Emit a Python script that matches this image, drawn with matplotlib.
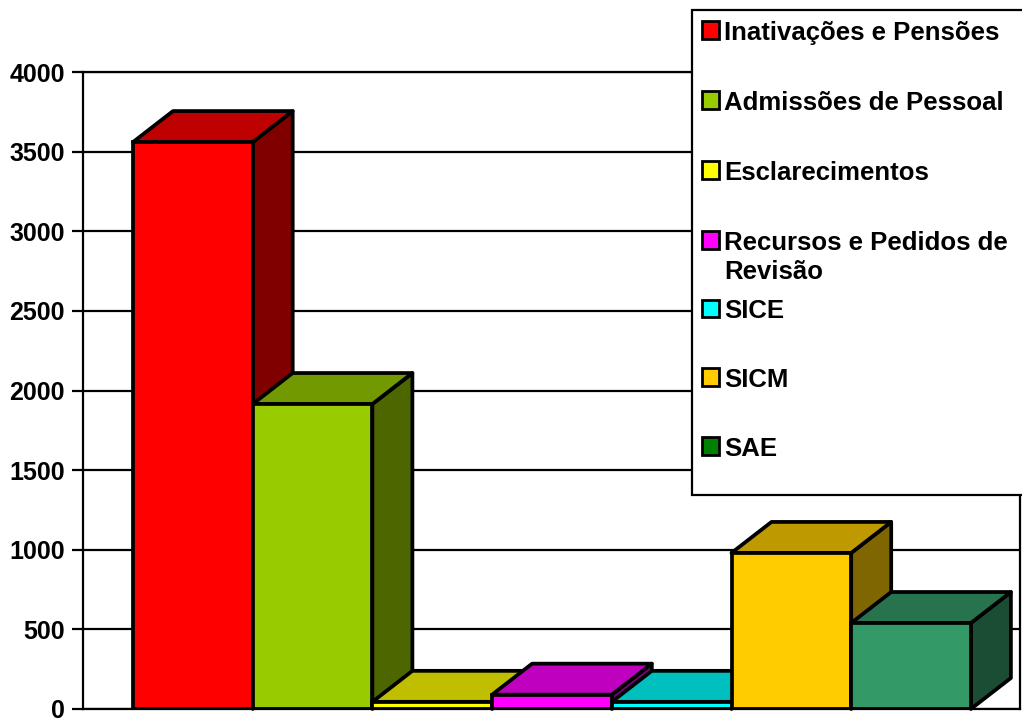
import matplotlib
matplotlib.use("Agg")
import matplotlib.pyplot as plt
from matplotlib.patches import Polygon, Rectangle
from matplotlib.colors import to_rgb

plt.rcParams['font.family'] = ['Liberation Sans', 'DejaVu Sans']

# ---- data ----
categories = ["Inativações e Pensões", "Admissões de Pessoal", "Esclarecimentos",
              "Recursos e Pedidos de\nRevisão", "SICE", "SICM", "SAE"]
values = [3560, 1915, 45, 90, 45, 980, 540]
front_colors = ['#FF0000', '#99CC00', '#FFFF00', '#FF00FF', '#00FFFF', '#FFCC00', '#339966']
legend_colors = ['#FF0000', '#99CC00', '#FFFF00', '#FF00FF', '#00FFFF', '#FFCC00', '#008000']
yticks = [0, 500, 1000, 1500, 2000, 2500, 3000, 3500, 4000]

W, H = 1022, 719
fig = plt.figure(figsize=(W / 100, H / 100), dpi=100)
fig.patch.set_facecolor('white')

PX_PER_CAT = 119.7
x_left_px, x_right_px, bar0_px = 83, 1020, 133
y_bot_px, y_top_px = 709, 72
ax = fig.add_axes([x_left_px / W, (H - y_bot_px) / H,
                   (x_right_px - x_left_px) / W, (y_bot_px - y_top_px) / H])
ax.set_xlim((x_left_px - bar0_px) / PX_PER_CAT, (x_right_px - bar0_px) / PX_PER_CAT)
ax.set_ylim(0, 4000)

# depth offsets (in data units)
DX = 40 / PX_PER_CAT
DY = 31 / ((y_bot_px - y_top_px) / 4000)


def shade(c, f):
    r, g, b = to_rgb(c)
    return (r * f, g * f, b * f)


for y in yticks:
    ax.axhline(y, color='black', lw=1.6, zorder=0)

lw = 2.7
for i, (v, c) in enumerate(zip(values, front_colors)):
    x0, x1 = i, i + 1
    z = 2 + i
    side = Polygon([(x1, 0), (x1 + DX, DY), (x1 + DX, v + DY), (x1, v)], closed=True,
                   facecolor=shade(c, 0.5), edgecolor='black', lw=lw, zorder=z,
                   joinstyle='round', clip_on=False)
    top = Polygon([(x0, v), (x0 + DX, v + DY), (x1 + DX, v + DY), (x1, v)], closed=True,
                  facecolor=shade(c, 0.75), edgecolor='black', lw=lw, zorder=z,
                  joinstyle='round', clip_on=False)
    ax.add_patch(side)
    ax.add_patch(top)
    ax.bar(x0, v, width=1, align='edge', color=c, edgecolor='black', lw=lw,
           zorder=z + 0.5, joinstyle='miter')

ax.set_xticks([])
ax.set_yticks(yticks)
ax.set_yticklabels([str(t) for t in yticks], fontsize=18, fontweight='bold')
ax.tick_params(axis='y', length=8, width=1.6, pad=5, colors='black')
for s in ax.spines.values():
    s.set_color('black')
    s.set_linewidth(1.6)
    s.set_zorder(1)
ax.spines['left'].set_zorder(20)
ax.spines['bottom'].set_zorder(20)

# ---- legend (manual, positioned in figure pixels) ----
def fx(px):
    return px / W


def fy(py):
    return 1 - py / H


leg_box = Rectangle((fx(692), fy(495)), fx(1040) - fx(692), fy(10) - fy(495),
                    transform=fig.transFigure, facecolor='white', edgecolor='black',
                    lw=1.6, zorder=50)
fig.patches.append(leg_box)

baselines = [40, 110, 180, 250, 318.5, 387, 456]
for lab, col, bl in zip(categories, legend_colors, baselines):
    sq = Rectangle((fx(701.5), fy(bl - 1)), fx(17), fy(0) - fy(18),
                   transform=fig.transFigure, facecolor=col, edgecolor='black',
                   lw=2.0, zorder=51)
    fig.patches.append(sq)
    lines = lab.split('\n')
    for k, ln in enumerate(lines):
        fig.text(fx(724), fy(bl + k * 28.5), ln, fontsize=18.5, fontweight='bold',
                 va='baseline', ha='left', zorder=52)

fig.savefig('out.png', dpi=100, facecolor='white')
